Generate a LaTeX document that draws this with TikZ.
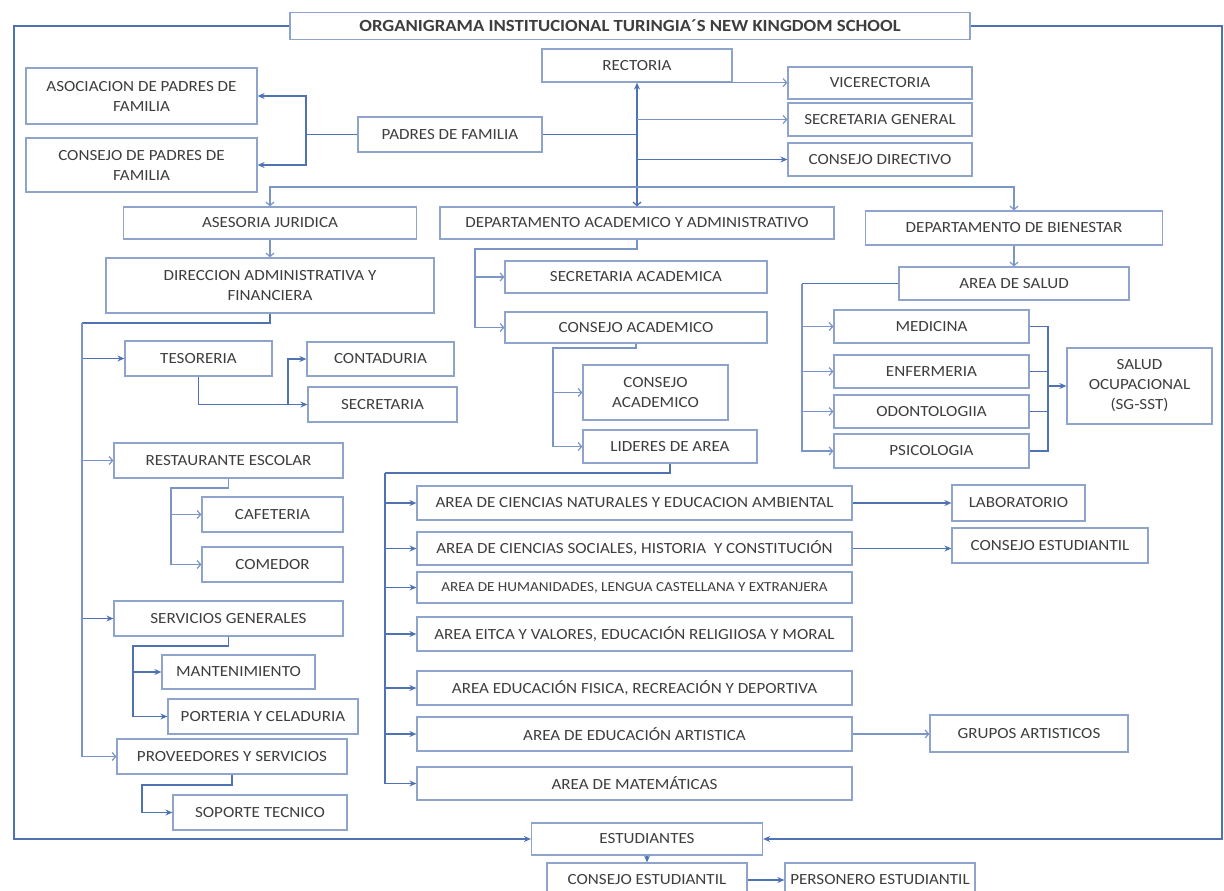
\documentclass[tikz,border=0pt]{standalone}
\usepackage{fontspec}
\setmainfont{Carlito}[FakeStretch=1.1]
\usetikzlibrary{arrows.meta,
  calc
}
\definecolor{boxc}{RGB}{143,164,204}
\definecolor{linec}{RGB}{79,114,178}
\definecolor{txtc}{RGB}{62,62,62}
\tikzstyle{box} = [draw=boxc, line width=1.2, fill=white, text=txtc,
  inner sep=0pt, align=center, font=\fontsize{15.5}{20}\selectfont]
\tikzstyle{conn} = [draw=linec, line width=1.3]
\tikzstyle{farr} = [conn, -{Stealth[length=7pt,width=6pt]}]
\tikzstyle{oarr} = [draw=linec!75, line width=1.2, -{Straight Barb[length=3.5pt,width=8pt]}]

\begin{document}
\begin{tikzpicture}[x=1pt,y=-1pt]
  \useasboundingbox (0,0) rectangle (1224,891);
  \clip (0,0) rectangle (1224,891);

  \node[box, minimum width=680, minimum height=27, font=\bfseries\fontsize{17}{19}\selectfont] (title) at (630,26) {ORGANIGRAMA INSTITUCIONAL TURINGIA´S NEW KINGDOM SCHOOL};
  \node[box, minimum width=190, minimum height=33] (rect) at (637,65.5) {RECTORIA};
  \node[box, minimum width=184, minimum height=32] (vice) at (880,83) {VICERECTORIA};
  \node[box, minimum width=184, minimum height=33] (secg) at (880,119.5) {SECRETARIA GENERAL};
  \node[box, minimum width=184, minimum height=33] (cdir) at (880,159.5) {CONSEJO DIRECTIVO};
  \node[box, minimum width=231, minimum height=56] (asoc) at (141.5,96) {ASOCIACION DE PADRES DE\\FAMILIA};
  \node[box, minimum width=231, minimum height=54] (cpad) at (141.5,165) {CONSEJO DE PADRES DE\\FAMILIA};
  \node[box, minimum width=184, minimum height=35] (pad) at (450,134.5) {PADRES DE FAMILIA};

  \node[box, minimum width=293, minimum height=32] (ases) at (270,223) {ASESORIA JURIDICA};
  \node[box, minimum width=394, minimum height=32] (dacad) at (637,223) {DEPARTAMENTO ACADEMICO Y ADMINISTRATIVO};
  \node[box, minimum width=297, minimum height=34] (dbien) at (1014,228) {DEPARTAMENTO DE BIENESTAR};
  \node[box, minimum width=328, minimum height=55] (dir) at (270,285.5) {DIRECCION ADMINISTRATIVA Y\\FINANCIERA};

  \node[box, minimum width=147, minimum height=35] (tes) at (198.5,358.5) {TESORERIA};
  \node[box, minimum width=147, minimum height=34] (cont) at (380.5,359) {CONTADURIA};
  \node[box, minimum width=149, minimum height=35] (secr) at (382.5,404.5) {SECRETARIA};
  \node[box, minimum width=229, minimum height=35] (rest) at (228.5,460.5) {RESTAURANTE ESCOLAR};
  \node[box, minimum width=141, minimum height=35] (caf) at (272.5,514.5) {CAFETERIA};
  \node[box, minimum width=141, minimum height=35] (com) at (272.5,564.5) {COMEDOR};
  \node[box, minimum width=229, minimum height=35] (serv) at (228.5,618.5) {SERVICIOS GENERALES};
  \node[box, minimum width=153, minimum height=34] (mant) at (238.5,672) {MANTENIMIENTO};
  \node[box, minimum width=190, minimum height=35] (port) at (263,716.5) {PORTERIA Y CELADURIA};
  \node[box, minimum width=230, minimum height=35] (prov) at (232,756.5) {PROVEEDORES Y SERVICIOS};
  \node[box, minimum width=174, minimum height=35] (sop) at (260,812.5) {SOPORTE TECNICO};

  \node[box, minimum width=262, minimum height=32] (seca) at (636,277) {SECRETARIA ACADEMICA};
  \node[box, minimum width=262, minimum height=31] (cacad) at (636,327.5) {CONSEJO ACADEMICO};
  \node[box, minimum width=145, minimum height=55] (cacadb) at (655.5,392.5) {CONSEJO\\ACADEMICO};
  \node[box, minimum width=174, minimum height=33] (lid) at (670,446.5) {LIDERES DE AREA};
  \node[box, minimum width=435, minimum height=34] (a1) at (634.5,503) {AREA DE CIENCIAS NATURALES Y EDUCACION AMBIENTAL};
  \node[box, minimum width=435, minimum height=33] (a2) at (634.5,548.5) {AREA DE CIENCIAS SOCIALES, HISTORIA \ Y CONSTITUCIÓN};
  \node[box, minimum width=435, minimum height=31, font=\fontsize{13.8}{16}\selectfont] (a3) at (634.5,587.5) {AREA DE HUMANIDADES, LENGUA CASTELLANA Y EXTRANJERA};
  \node[box, minimum width=435, minimum height=34] (a4) at (634.5,634) {AREA EITCA Y VALORES, EDUCACIÓN RELIGIIOSA Y MORAL};
  \node[box, minimum width=435, minimum height=34] (a5) at (634.5,688) {AREA EDUCACIÓN FISICA, RECREACIÓN Y DEPORTIVA};
  \node[box, minimum width=435, minimum height=34] (a6) at (634.5,734) {AREA DE EDUCACIÓN ARTISTICA};
  \node[box, minimum width=435, minimum height=33] (a7) at (634.5,783.5) {AREA DE MATEMÁTICAS};

  \node[box, minimum width=230, minimum height=33] (salud) at (1014,283.5) {AREA DE SALUD};
  \node[box, minimum width=195, minimum height=33] (med) at (931.5,326.5) {MEDICINA};
  \node[box, minimum width=195, minimum height=33] (enf) at (931.5,371.5) {ENFERMERIA};
  \node[box, minimum width=195, minimum height=33] (odo) at (931.5,411.5) {ODONTOLOGIIA};
  \node[box, minimum width=195, minimum height=34] (psi) at (931.5,451) {PSICOLOGIA};
  \node[box, minimum width=145, minimum height=76] (socup) at (1139.5,386) {SALUD\\OCUPACIONAL\\(SG-SST)};
  \node[box, minimum width=133, minimum height=36] (lab) at (1018.5,503) {LABORATORIO};
  \node[box, minimum width=196, minimum height=35] (cest) at (1050,545.5) {CONSEJO ESTUDIANTIL};
  \node[box, minimum width=198, minimum height=37] (grup) at (1029,733.5) {GRUPOS ARTISTICOS};

  \node[box, minimum width=231, minimum height=32] (est) at (647,839) {ESTUDIANTES};
  \node[box, minimum width=200, minimum height=34] (cestb) at (647,880) {CONSEJO ESTUDIANTIL};
  \node[box, minimum width=190, minimum height=34] (pers) at (880,880) {PERSONERO ESTUDIANTIL};

  % marco exterior
  \draw[farr] (title.west) -| (14,839) -- (est.west);
  \draw[farr] (title.east) -| (1222,839) -- (est.east);

  % rectoria
  \draw[conn, {Stealth[length=7pt,width=6pt]}-{Straight Barb[length=3.5pt,width=8pt]}] (rect.south) -- (dacad.north);
  \draw[oarr] (rect.south) -- (rect.south -| vice.west);
  \draw[oarr] (secg.west -| rect.south) -- (secg.west);
  \draw[farr] (cdir.west -| rect.south) -- (cdir.west);
  \draw[conn] (pad.east) -- (pad.east -| rect.south);
  \draw[farr] (pad.west) -- (306,134.5) |- (asoc.east);
  \draw[farr] (306,134.5) |- (cpad.east);
  \draw[oarr] (637,187) -| (ases.north);
  \draw[oarr] (637,187) -| (dbien.north);
  \draw[oarr] (ases.south) -- (dir.north);

  % direccion
  \draw[conn, line width=2.2] (dir.south) |- (82,323);
  \foreach \n in {tes,serv}
    \draw[farr] (82,323) |- (\n.west);
  \foreach \n in {rest,prov}
    \draw[oarr] (82,323) |- (\n.west);
  \draw[farr] (tes.south) |- (secr.west);
  \draw[farr] (288,404.5) |- (cont.west);
  \draw[oarr] (rest.south) |- (171,488) |- (caf.west);
  \draw[oarr] (171,488) |- (com.west);
  \draw[farr] (serv.south) |- (133,646) |- (mant.west);
  \draw[farr] (133,646) |- (port.west);
  \draw[farr] (prov.south) |- (142,785) |- (sop.west);

  % academico
  \draw[oarr] (dacad.south) |- (475,249) |- (seca.west);
  \draw[oarr] (475,249) |- (cacad.west);
  \draw[oarr] (cacad.south) |- (553,348) |- (cacadb.west);
  \draw[oarr] (553,348) |- (lid.west);
  \draw[conn, line width=2.2] (lid.south) |- (385,473);
  \foreach \n in {a1,a2,a3,a4,a5,a6,a7}
    \draw[farr] (385,473) |- (\n.west);
  \draw[farr] (a1.east) -- (a1.east -| lab.west);
  \draw[farr] (a2.east) -- (a2.east -| cest.west);
  \draw[oarr] (a6.east) -- (a6.east -| grup.west);

  % bienestar
  \draw[oarr] (dbien.south) -- (salud.north);
  \draw[conn] (salud.west) -- (802,283.5);
  \foreach \n in {med,enf,odo,psi} {
    \draw[oarr] (802,283.5) |- (\n.west);
    \draw[conn] (\n.east) -| (1048,386);
  }
  \draw[farr] (1048,386) -- (socup.west);

  % estudiantes
  \draw[farr] (est.south) -- (cestb.north);
  \draw[farr] (cestb.east) -- (pers.west);
\end{tikzpicture}
\end{document}
